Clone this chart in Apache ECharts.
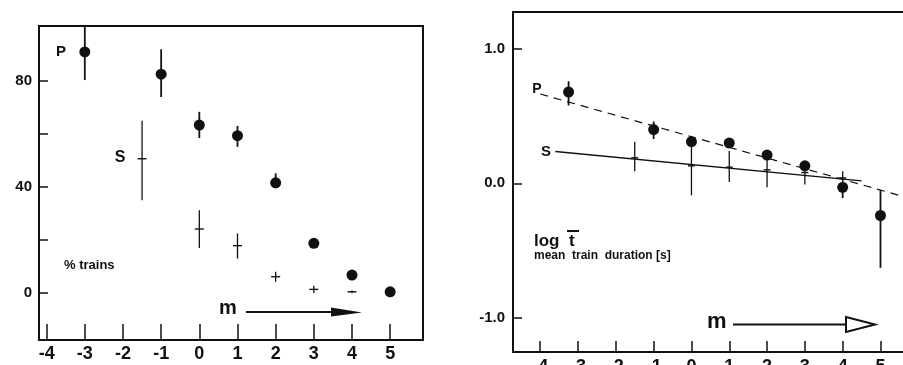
<!DOCTYPE html>
<html>
<head>
<meta charset="utf-8">
<script src="https://cdn.jsdelivr.net/npm/echarts@6/dist/echarts.min.js"></script>
<style>
html, body { margin: 0; padding: 0; background: #fff; }
#chart { width: 903px; height: 365px; }
</style>
</head>
<body>
<div id="chart"></div>
<script>
// x 轴刻度 (m)
var mTicks = [-4, -3, -2, -1, 0, 1, 2, 3, 4, 5];

/* 左图: % trains */
var pctTicks = [0, 20, 40, 60, 80];
var pctLabels = [0, 40, 80];
var pctPM = [-3, -1, 0, 1, 2, 3, 4, 5];
var pctPVal = [91, 82.6, 63.4, 59.4, 41.6, 18.8, 6.8, 0.5];
var pctPLow = [80.4, 74, 58.5, 55.2, 39.6, null, null, null];
var pctPHigh = [100.8, 92, 68.4, 63.1, 45.2, null, null, null];
var pctSM = [-1.5, 0, 1, 2, 3, 4];
var pctSVal = [50.7, 24.2, 17.9, 6.2, 1.4, 0.5];
var pctSLow = [35, 17, 13, 4.3, 0, 0];
var pctSHigh = [65, 31.3, 22.5, 8.1, 2.8, 1];

/* 右图: log t (mean train duration) */
var logTicks = [-1, 0, 1];
var logPM = [-3.25, -1, 0, 1, 2, 3, 4, 5];
var logPVal = [0.68, 0.40, 0.31, 0.30, 0.21, 0.13, -0.03, -0.24];
var logPLow = [0.58, 0.33, null, null, null, null, -0.11, -0.63];
var logPHigh = [0.76, 0.46, null, null, null, null, 0.0, -0.05];
var logSM = [-1.5, 0, 1, 2, 3, 4];
var logSVal = [0.19, 0.13, 0.12, 0.10, 0.08, 0.04];
var logSLow = [0.09, -0.09, 0.01, -0.03, -0.01, 0.0];
var logSHigh = [0.31, 0.30, 0.24, 0.20, 0.12, 0.09];
/* 拟合直线 */
var fitSM = [-3.6, 4.5];
var fitSVal = [0.237, 0.018];
var fitPM = [-4.0, 5.9];
var fitPVal = [0.665, -0.122];

var ink = '#111';

/* 误差棒 + 点/十字 */
function pointBars(mArr, vArr, loArr, hiArr, kind, r) {
	return function(params, api) {
		var i = params.dataIndex;
		var children = [];
		var c = api.coord([mArr[i], vArr[i]]);
		if(loArr[i] != null && hiArr[i] != null) {
			var a = api.coord([mArr[i], loArr[i]]);
			var b = api.coord([mArr[i], hiArr[i]]);
			children.push({
				type: 'line',
				shape: { x1: a[0], y1: a[1], x2: b[0], y2: b[1] },
				style: { stroke: ink, lineWidth: kind == 'dot' ? 1.8 : 1.3 }
			});
		}
		if(kind == 'dot') {
			children.push({ type: 'circle', shape: { cx: c[0], cy: c[1], r: r }, style: { fill: ink } });
		} else {
			children.push({
				type: 'line',
				shape: { x1: c[0] - r, y1: c[1], x2: c[0] + r, y2: c[1] },
				style: { stroke: ink, lineWidth: 1.4 }
			});
		}
		return { type: 'group', children: children };
	};
}

function pairs(xs, ys) {
	return xs.map(function(x, i) { return [x, ys[i]]; });
}

function xAxisCfg(idx, min, max, tickLen, margin) {
	return {
		type: 'value', gridIndex: idx, min: min, max: max,
		splitLine: { show: false },
		axisLine: { show: true, onZero: false, lineStyle: { color: ink, width: 2 } },
		axisTick: { show: true, inside: true, length: tickLen, customValues: mTicks, lineStyle: { color: ink, width: 1.5 } },
		axisLabel: {
			customValues: mTicks, margin: margin, color: ink,
			fontFamily: 'Liberation Sans', fontWeight: 'bold', fontSize: 18
		}
	};
}

var chart = echarts.init(document.getElementById('chart'));
var option = {
	animation: false,
	backgroundColor: '#fff',
	grid: [
		{ left: 39, top: 26, width: 384, height: 314, outerBoundsMode: 'none', show: true, borderColor: ink, borderWidth: 2 },
		{ left: 513, top: 12, width: 400, height: 340, outerBoundsMode: 'none', show: true, borderColor: ink, borderWidth: 2 }
	],
	xAxis: [
		xAxisCfg(0, -4.2, 5.86, 16, 5),
		xAxisCfg(1, -4.72, 5.86, 11, 6)
	],
	yAxis: [{
		type: 'value', gridIndex: 0, min: -17.7, max: 100.8,
		splitLine: { show: false },
		axisLine: { show: true, onZero: false, lineStyle: { color: ink, width: 2 } },
		axisTick: { show: true, inside: true, length: 9, customValues: pctTicks, lineStyle: { color: ink, width: 1.5 } },
		axisLabel: {
			customValues: pctLabels, margin: 7, color: ink,
			fontFamily: 'Liberation Sans', fontWeight: 'bold', fontSize: 15
		}
	}, {
		type: 'value', gridIndex: 1, min: -1.257, max: 1.276,
		splitLine: { show: false },
		axisLine: { show: true, onZero: false, lineStyle: { color: ink, width: 2 } },
		axisTick: { show: true, inside: true, length: 9, customValues: logTicks, lineStyle: { color: ink, width: 1.5 } },
		axisLabel: {
			customValues: logTicks, margin: 8, color: ink,
			fontFamily: 'Liberation Sans', fontWeight: 'bold', fontSize: 15,
			formatter: function(v) { return v.toFixed(1); }
		}
	}],
	series: [{
		type: 'custom', xAxisIndex: 0, yAxisIndex: 0,
		data: pairs(pctPM, pctPVal),
		renderItem: pointBars(pctPM, pctPVal, pctPLow, pctPHigh, 'dot', 5.5)
	}, {
		type: 'custom', xAxisIndex: 0, yAxisIndex: 0,
		data: pairs(pctSM, pctSVal),
		renderItem: pointBars(pctSM, pctSVal, pctSLow, pctSHigh, 'cross', 4.5)
	}, {
		type: 'line', xAxisIndex: 1, yAxisIndex: 1, showSymbol: false,
		data: pairs(fitPM, fitPVal),
		lineStyle: { color: ink, width: 1.2, type: [8, 6] }
	}, {
		type: 'line', xAxisIndex: 1, yAxisIndex: 1, showSymbol: false,
		data: pairs(fitSM, fitSVal),
		lineStyle: { color: ink, width: 1.4 }
	}, {
		type: 'custom', xAxisIndex: 1, yAxisIndex: 1,
		data: pairs(logSM, logSVal),
		renderItem: pointBars(logSM, logSVal, logSLow, logSHigh, 'cross', 3.5)
	}, {
		type: 'custom', xAxisIndex: 1, yAxisIndex: 1,
		data: pairs(logPM, logPVal),
		renderItem: pointBars(logPM, logPVal, logPLow, logPHigh, 'dot', 5.5)
	}],
	graphic: [
		/* 左图标注 */
		{ type: 'text', style: { text: 'P', x: 61, y: 52, align: 'center', verticalAlign: 'middle', font: 'bold 15px "Liberation Sans"', fill: ink } },
		{ type: 'text', style: { text: 'S', x: 120, y: 158, align: 'center', verticalAlign: 'middle', font: 'bold 16px "Liberation Sans"', fill: ink } },
		{ type: 'text', style: { text: '% trains', x: 64, y: 265, verticalAlign: 'middle', font: 'bold 13px "Liberation Sans"', fill: ink } },
		{ type: 'text', style: { text: 'm', x: 219, y: 308, verticalAlign: 'middle', font: 'bold 20px "Liberation Sans"', fill: ink } },
		{ type: 'line', shape: { x1: 246, y1: 312, x2: 336, y2: 312 }, style: { stroke: ink, lineWidth: 2 } },
		{ type: 'polygon', shape: { points: [[331, 307.5], [362, 312.5], [331, 316.5]] }, style: { fill: ink } },
		/* 右图标注 */
		{ type: 'text', style: { text: 'P', x: 537, y: 89, align: 'center', verticalAlign: 'middle', font: 'bold 14px "Liberation Sans"', fill: ink } },
		{ type: 'text', style: { text: 'S', x: 546, y: 152, align: 'center', verticalAlign: 'middle', font: 'bold 15px "Liberation Sans"', fill: ink } },
		{ type: 'text', style: { text: 'log  t', x: 534, y: 241, verticalAlign: 'middle', font: 'bold 17px "Liberation Sans"', fill: ink } },
		{ type: 'line', shape: { x1: 567, y1: 231, x2: 579, y2: 231 }, style: { stroke: ink, lineWidth: 2 } },
		{ type: 'text', style: { text: 'mean  train  duration [s]', x: 534, y: 256, verticalAlign: 'middle', font: 'bold 12px "Liberation Sans"', fill: ink } },
		{ type: 'text', style: { text: 'm', x: 707, y: 322, verticalAlign: 'middle', font: 'bold 22px "Liberation Sans"', fill: ink } },
		{ type: 'line', shape: { x1: 733, y1: 324.5, x2: 850, y2: 324.5 }, style: { stroke: ink, lineWidth: 2 } },
		{ type: 'polygon', shape: { points: [[846, 317], [875, 324.5], [846, 332]] }, style: { fill: '#fff', stroke: ink, lineWidth: 2 } }
	]
};
chart.setOption(option);
</script>
</body>
</html>
